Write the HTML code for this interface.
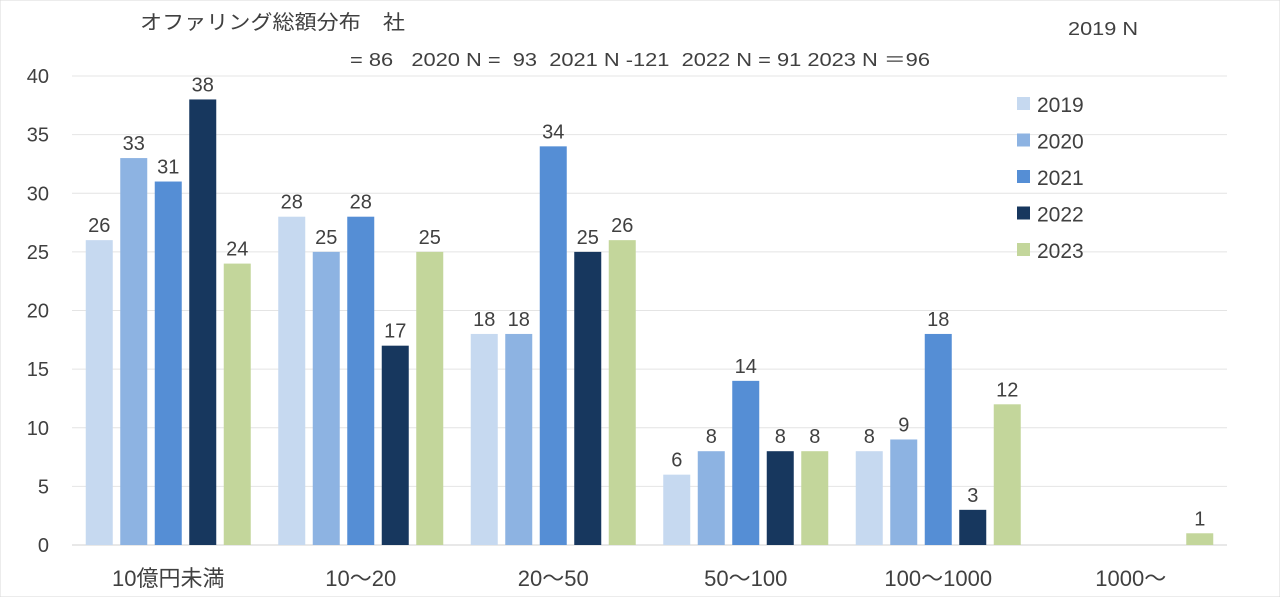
<!DOCTYPE html>
<html><head><meta charset="utf-8">
<style>
body{margin:0;background:#fff;}
svg{display:block;font-family:"Liberation Sans","Noto Sans CJK JP",sans-serif;}
</style></head>
<body>
<svg id="chart" width="1280" height="597" viewBox="0 0 1280 597">
<rect x="0" y="0" width="1280" height="597" fill="#fff" stroke="#d9d9d9"/>
<text x="140" y="29" font-size="20" fill="#404040" textLength="265" lengthAdjust="spacingAndGlyphs">オファリング総額分布　社</text>
<text x="350" y="66" font-size="18" fill="#404040" xml:space="preserve" textLength="580" lengthAdjust="spacingAndGlyphs">= 86   2020 N =  93  2021 N -121  2022 N = 91 2023 N ＝96</text>
<text x="1068" y="35" font-size="18" fill="#404040" textLength="70" lengthAdjust="spacingAndGlyphs">2019 N</text>
<g id="grid"></g><g id="bars"></g><g id="legend"></g>
</svg>
<script>
const categories=["10億円未満","10～20","20～50","50～100","100～1000","1000～"];
const seriesNames=["2019","2020","2021","2022","2023"];
const s2019=[26,28,18,6,8,0];
const s2020=[33,25,18,8,9,0];
const s2021=[31,28,34,14,18,0];
const s2022=[38,17,25,8,3,0];
const s2023=[24,25,26,8,12,1];
const yTicks=[0,5,10,15,20,25,30,35,40];
const colors=["#c6d9f0","#8db3e2","#558ed5","#17375e","#c3d69b"];
const series=[s2019,s2020,s2021,s2022,s2023];
const NS="http://www.w3.org/2000/svg";
const X0=72,X1=1227,Y0=545,Y1=76,YMAX=40;
const y=v=>Y0-(v/YMAX)*(Y0-Y1);
const gw=(X1-X0)/categories.length;
const xc=i=>X0+gw*(i+0.5);
const BW=27,STEP=34.5;
function mk(t,a,p){const e=document.createElementNS(NS,t);for(const k in a)e.setAttribute(k,a[k]);p.appendChild(e);return e;}
const grid=document.getElementById('grid');
yTicks.forEach(t=>{
 const l=mk('line',{x1:X0,x2:X1,y1:y(t),y2:y(t),stroke:t===0?'#d0d0d0':'#e4e4e4','stroke-width':1},grid);
 
 
 const tx=mk('text',{x:49,y:y(t)+7,'text-anchor':'end','font-size':20,fill:'#404040'},grid);
 tx.textContent=t;
 
 
});
categories.forEach((c,i)=>{
 const tx=mk('text',{x:xc(i),y:586,'text-anchor':'middle','font-size':22,fill:'#404040'},grid);
 tx.textContent=c;
 
 
});
const bars=document.getElementById('bars');
categories.forEach((c,i)=>{
 series.forEach((s,k)=>{
  const v=s[i]; if(!v) return;
  const x=xc(i)+(k-2)*STEP-BW/2;
  const r=mk('rect',{x:x,y:y(v),width:BW,height:Y0-y(v),fill:colors[k]},bars);
  
  
  const t=mk('text',{x:x+BW/2,y:y(v)-8,'text-anchor':'middle','font-size':20,fill:'#404040'},bars);
  t.textContent=v;
  
  
 });
});
const lg=document.getElementById('legend');
seriesNames.forEach((n,k)=>{
 const yy=104+k*36.5;
 const r=mk('rect',{x:1017,y:yy-7,width:13,height:13,fill:colors[k]},lg);
 
 
 const t=mk('text',{x:1037,y:yy+8,'font-size':21,fill:'#404040'},lg);
 t.textContent=n;
 
 
});
</script>
</body></html>
